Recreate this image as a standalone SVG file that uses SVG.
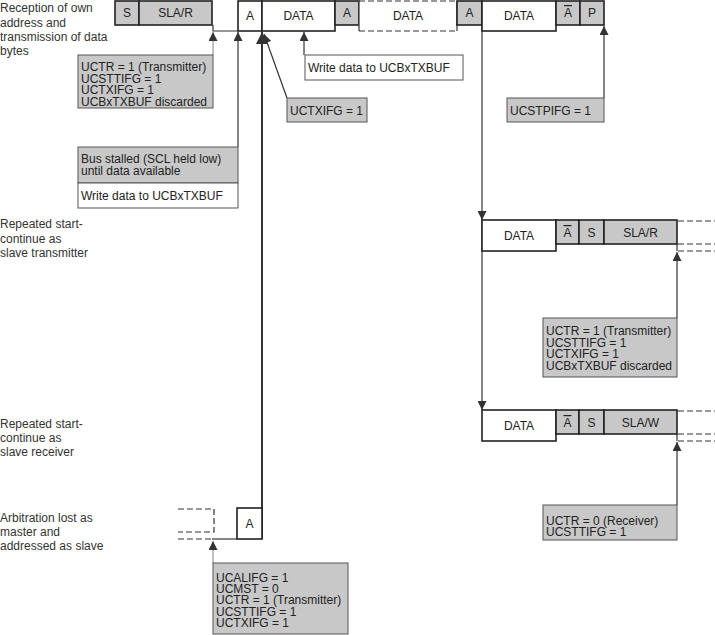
<svg xmlns="http://www.w3.org/2000/svg" width="715" height="635" viewBox="0 0 715 635">
<style>
text{font-family:"Liberation Sans",Arial,sans-serif;font-size:12px}
.lbl{fill:#333}
.t{fill:#222}
.c{text-anchor:middle}
.cell{stroke:#222;stroke-width:1.6}
.g{fill:#c8c8c8}
.w{fill:#fff}
.note{stroke:#555;stroke-width:1}
.conn{stroke:#333;stroke-width:1.2;fill:none}
.lt{stroke:#999;stroke-width:1.2;fill:none}
.thick{stroke:#333;stroke-width:2;fill:none}
.dash{stroke:#333;stroke-width:1.2;stroke-dasharray:6 3;fill:none}
.ov{text-decoration:overline}
</style>
<defs>
<marker id="ah" viewBox="0 0 10 10" refX="10" refY="5" markerWidth="10" markerHeight="9" markerUnits="userSpaceOnUse" orient="auto"><path d="M0,0L10,5L0,10z" fill="#333"/></marker>
<marker id="ahb" viewBox="0 0 10 10" refX="10" refY="5" markerWidth="14" markerHeight="12" markerUnits="userSpaceOnUse" orient="auto"><path d="M0,0L10,5L0,10z" fill="#333"/></marker>
</defs>

<g id="labels">
<text class="lbl" x="0" y="12">Reception of own</text>
<text class="lbl" x="0" y="26.5">address and</text>
<text class="lbl" x="0" y="41">transmission of data</text>
<text class="lbl" x="0" y="55">bytes</text>
<text class="lbl" x="0" y="228">Repeated start-</text>
<text class="lbl" x="0" y="242.5">continue as</text>
<text class="lbl" x="0" y="257">slave transmitter</text>
<text class="lbl" x="0" y="428">Repeated start-</text>
<text class="lbl" x="0" y="442">continue as</text>
<text class="lbl" x="0" y="456">slave receiver</text>
<text class="lbl" x="0" y="522">Arbitration lost as</text>
<text class="lbl" x="0" y="536">master and</text>
<text class="lbl" x="0" y="550">addressed as slave</text>
</g>

<g id="connectors">
<path class="conn" d="M213,25V31H238"/>
<path class="lt" d="M213,55V32" marker-end="url(#ah)"/>
<path class="conn" d="M238,147V32" marker-end="url(#ah)"/>
<path class="thick" d="M262,539V32" marker-end="url(#ahb)"/>
<path class="conn" d="M287,98L264,34" marker-end="url(#ah)"/>
<path class="conn" d="M304,55V32" marker-end="url(#ah)"/>
<path class="conn" d="M604,98V26" marker-end="url(#ah)"/>
<path class="conn" d="M482,25V220" marker-end="url(#ah)"/>
<path class="conn" d="M482,220V410" marker-end="url(#ah)"/>
<path class="conn" d="M677,244V251"/>
<path class="conn" d="M677,318V252" marker-end="url(#ah)"/>
<path class="conn" d="M677,434V441"/>
<path class="conn" d="M677,505V442" marker-end="url(#ah)"/>
<path class="dash" d="M678,221H715M678,244H715M678,251H715"/>
<path class="dash" d="M678,411H715M678,434H715M678,441H715"/>
<path class="dash" d="M178,509H214V532H178M178,539H212"/>
<path class="conn" d="M212,539H237"/>
<path class="lt" d="M213,563V541" marker-end="url(#ah)"/>
</g>

<g id="row1">
<rect class="cell g" x="115" y="1" width="24" height="24"/><text class="t c" x="127" y="17">S</text>
<rect class="cell g" x="139" y="1" width="73" height="24"/><text class="t c" x="175.5" y="17">SLA/R</text>
<rect class="cell w" x="238" y="1" width="24" height="30"/><text class="t c" x="250" y="20">A</text>
<rect class="cell w" x="262" y="1" width="73" height="30"/><text class="t c" x="298.5" y="20">DATA</text>
<rect class="cell g" x="335" y="1" width="24" height="24"/><text class="t c" x="347" y="17">A</text>
<rect x="359" y="1" width="98" height="30" fill="#fff"/>
<path class="dash" d="M359,1H457M359,31H457"/>
<path class="conn" d="M359,1V31M457,1V31"/>
<text class="t c" x="408" y="20">DATA</text>
<rect class="cell g" x="457" y="1" width="25" height="24"/><text class="t c" x="469.5" y="17">A</text>
<rect class="cell w" x="482" y="1" width="74" height="30"/><text class="t c" x="519" y="20">DATA</text>
<rect class="cell g" x="556" y="1" width="24" height="24"/><text class="t c ov" x="568" y="17">A</text>
<rect class="cell g" x="580" y="1" width="24" height="24"/><text class="t c" x="592" y="17">P</text>
</g>

<g id="row2">
<rect class="cell w" x="482" y="220" width="74" height="31"/><text class="t c" x="519" y="240">DATA</text>
<rect class="cell g" x="556" y="220" width="23" height="24"/><text class="t c ov" x="567.5" y="237">A</text>
<rect class="cell g" x="579" y="220" width="25" height="24"/><text class="t c" x="591.5" y="237">S</text>
<rect class="cell g" x="604" y="220" width="73" height="24"/><text class="t c" x="640.5" y="237">SLA/R</text>
</g>

<g id="row3">
<rect class="cell w" x="482" y="410" width="74" height="31"/><text class="t c" x="519" y="430">DATA</text>
<rect class="cell g" x="556" y="410" width="23" height="24"/><text class="t c ov" x="567.5" y="427">A</text>
<rect class="cell g" x="579" y="410" width="25" height="24"/><text class="t c" x="591.5" y="427">S</text>
<rect class="cell g" x="604" y="410" width="73" height="24"/><text class="t c" x="640.5" y="427">SLA/W</text>
</g>

<g id="row4">
<rect class="cell w" x="237" y="508" width="25" height="31"/><text class="t c" x="249.5" y="528">A</text>
</g>

<g id="note-uctr1">
<rect class="note g" x="78" y="55" width="135" height="53"/>
<text class="t" x="81" y="71">UCTR = 1 (Transmitter)</text>
<text class="t" x="81" y="82.5">UCSTTIFG = 1</text>
<text class="t" x="81" y="94">UCTXIFG = 1</text>
<text class="t" x="81" y="105.5">UCBxTXBUF discarded</text>
</g>

<g id="note-bus">
<rect class="note g" x="78" y="147" width="160" height="36"/>
<rect class="note w" x="78" y="183" width="160" height="25"/>
<text class="t" x="81" y="163">Bus stalled (SCL held low)</text>
<text class="t" x="81" y="174.5">until data available</text>
<text class="t" x="81" y="200">Write data to UCBxTXBUF</text>
</g>

<g id="note-write">
<rect class="note w" x="305" y="55" width="158" height="25"/>
<text class="t" x="308" y="72">Write data to UCBxTXBUF</text>
</g>

<g id="note-uctxifg">
<rect class="note g" x="287" y="98" width="80" height="24"/>
<text class="t" x="290" y="115">UCTXIFG = 1</text>
</g>

<g id="note-ucstpifg">
<rect class="note g" x="507" y="98" width="97" height="24"/>
<text class="t" x="510" y="115">UCSTPIFG = 1</text>
</g>

<g id="note-uctr2">
<rect class="note g" x="543" y="318" width="134" height="59"/>
<text class="t" x="546" y="335">UCTR = 1 (Transmitter)</text>
<text class="t" x="546" y="346.7">UCSTTIFG = 1</text>
<text class="t" x="546" y="358.3">UCTXIFG = 1</text>
<text class="t" x="546" y="370">UCBxTXBUF discarded</text>
</g>

<g id="note-uctr0">
<rect class="note g" x="543" y="505" width="134" height="35"/>
<text class="t" x="546" y="525">UCTR = 0 (Receiver)</text>
<text class="t" x="546" y="536">UCSTTIFG = 1</text>
</g>

<g id="note-ucalifg">
<rect class="note g" x="213" y="563" width="135" height="71"/>
<text class="t" x="216" y="582">UCALIFG = 1</text>
<text class="t" x="216" y="593">UCMST = 0</text>
<text class="t" x="216" y="604">UCTR = 1 (Transmitter)</text>
<text class="t" x="216" y="615.5">UCSTTIFG = 1</text>
<text class="t" x="216" y="627">UCTXIFG = 1</text>
</g>
</svg>
